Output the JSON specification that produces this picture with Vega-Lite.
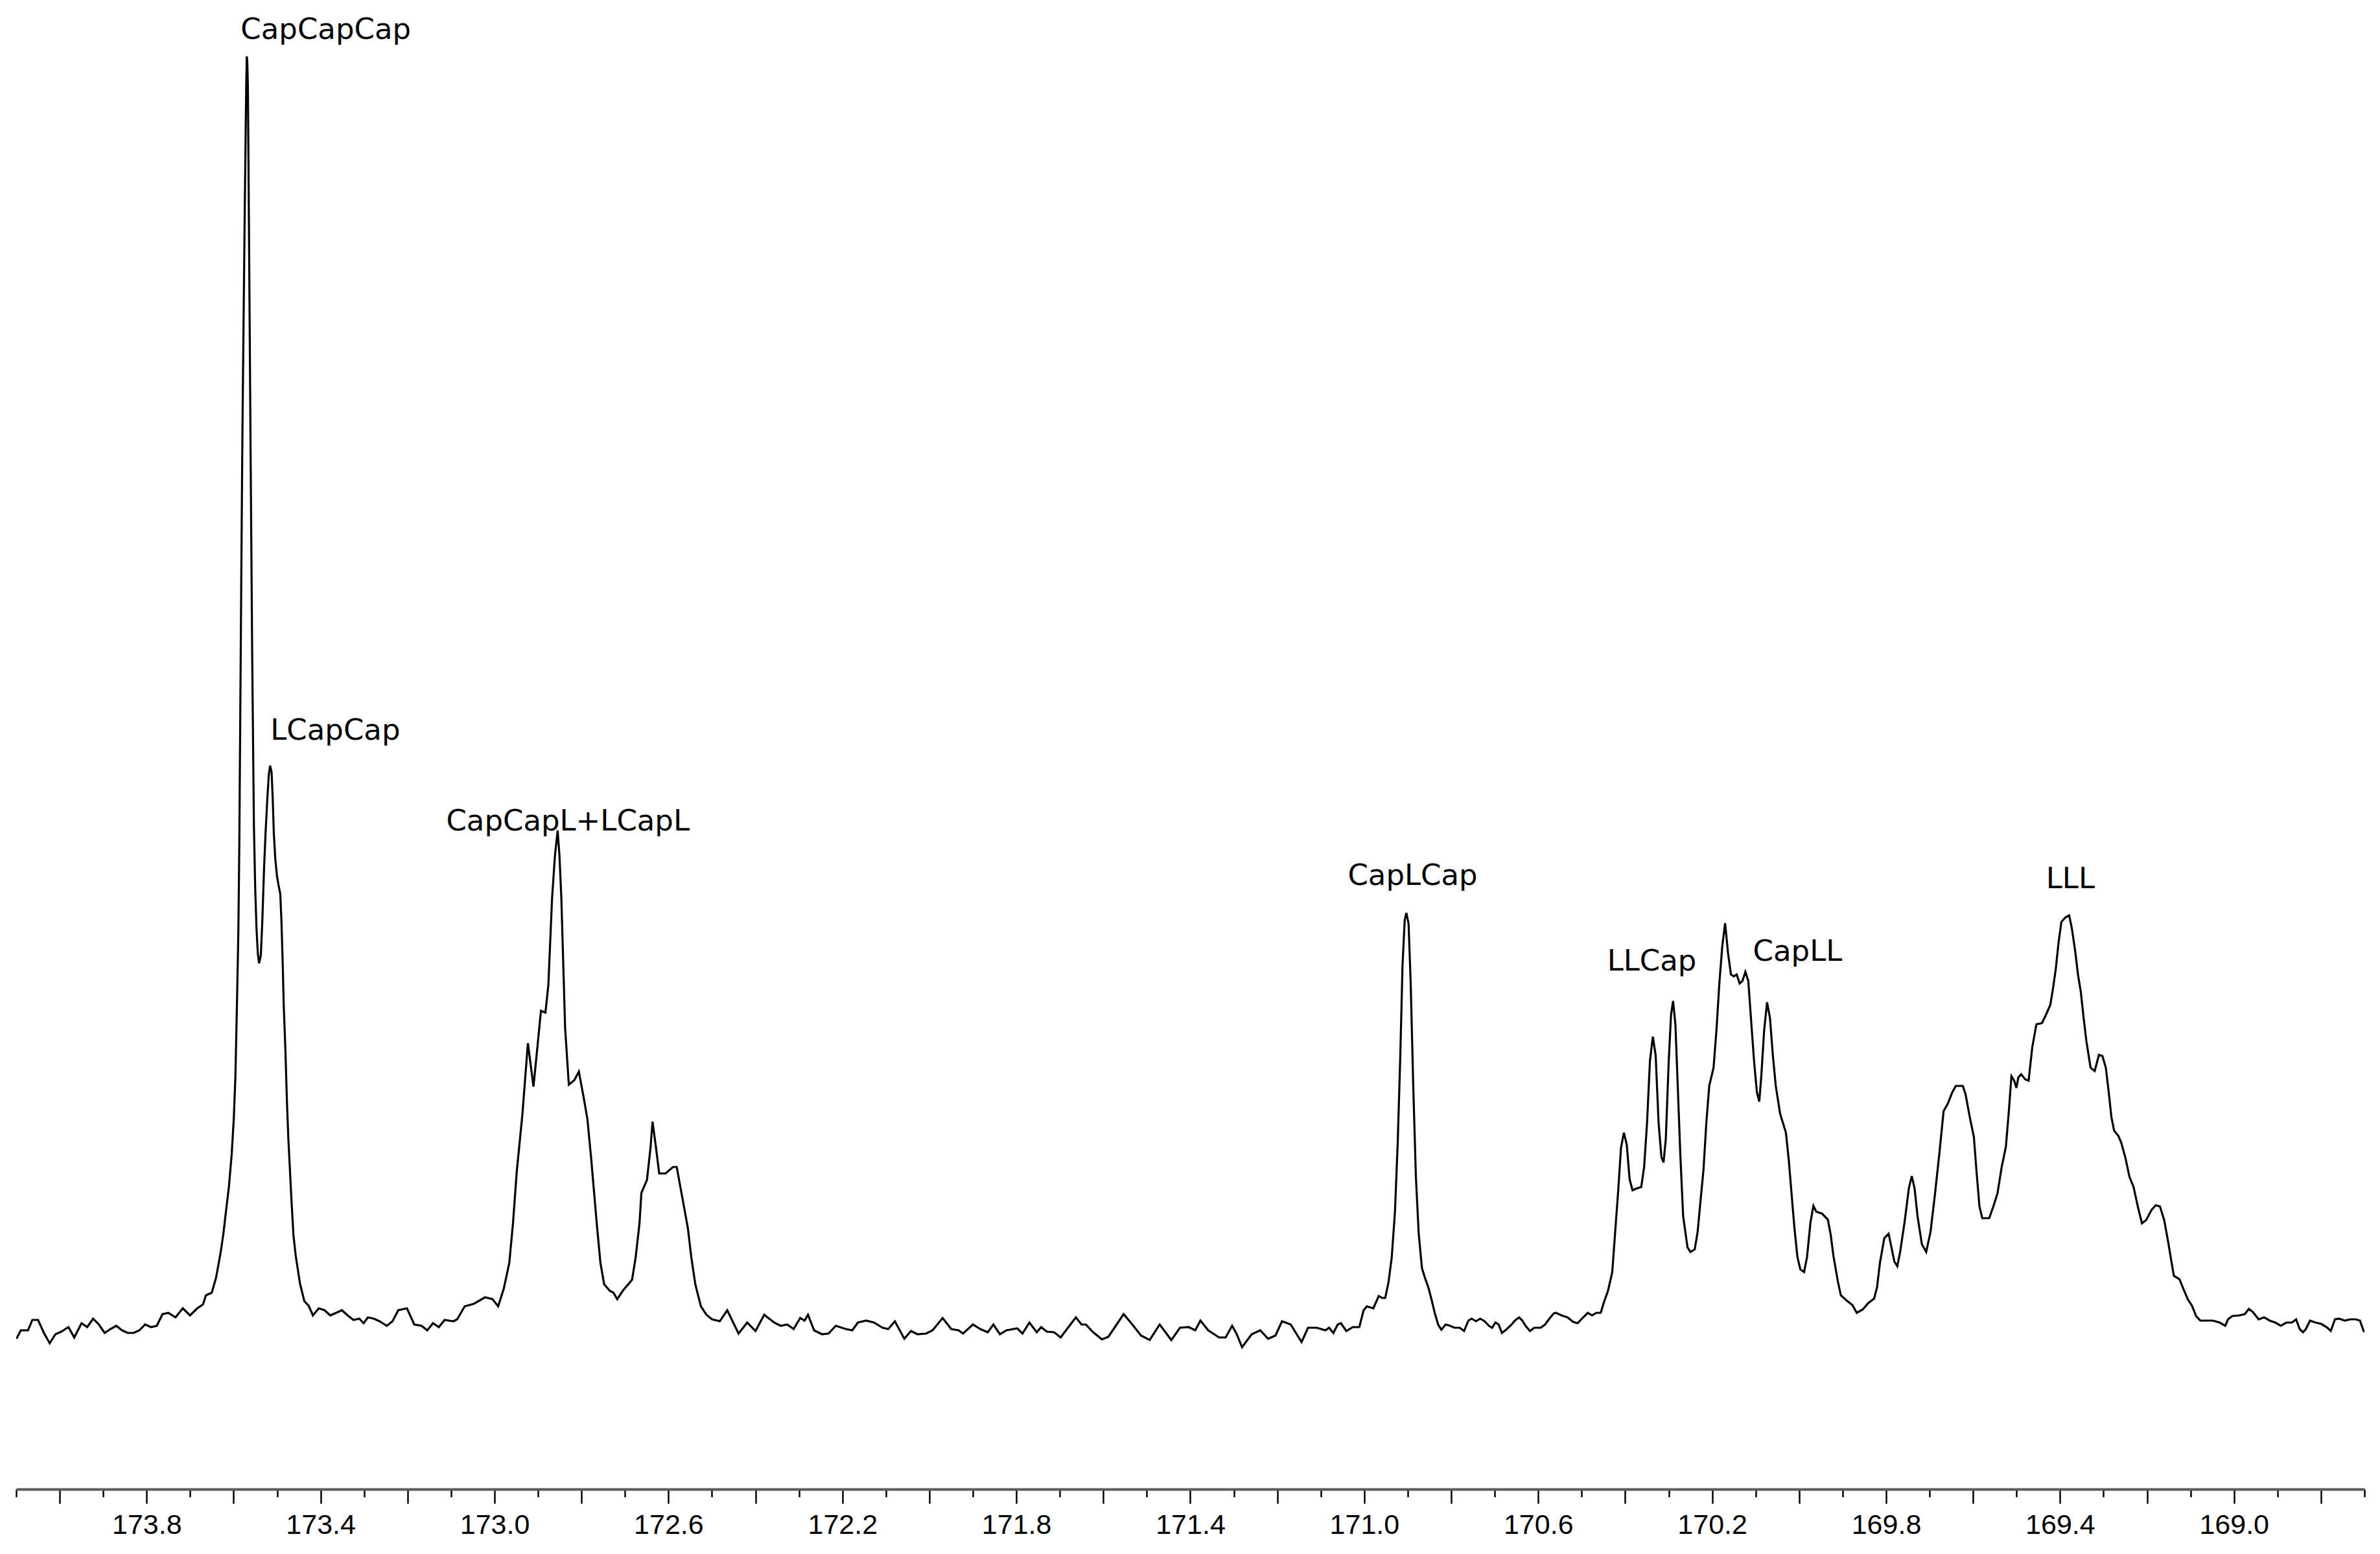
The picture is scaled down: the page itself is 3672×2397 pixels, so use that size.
{
"$schema":"https://vega.github.io/schema/vega-lite/v6.json",
"width":3623,"height":2297,
"padding":{"left":23,"top":0,"right":26,"bottom":0},
"autosize":{"type":"pad"},
"background":"white",
"config":{"view":{"stroke":null}},
"datasets":{
"spectrum":[
{"ppm":174.0994,"intensity":-0.75},{"ppm":174.0895,"intensity":-0.1},{"ppm":174.0729,"intensity":-0.1},{"ppm":174.0629,"intensity":0.7},{"ppm":174.0497,"intensity":0.7},{"ppm":174.0363,"intensity":-0.3},{"ppm":174.023,"intensity":-1.1},{"ppm":174.0097,"intensity":-0.4},{"ppm":173.9963,"intensity":-0.2},{"ppm":173.9798,"intensity":0.15},{"ppm":173.9665,"intensity":-0.65},{"ppm":173.9498,"intensity":0.45},{"ppm":173.9366,"intensity":0.15},{"ppm":173.9231,"intensity":0.8},{"ppm":173.9099,"intensity":0.35},{"ppm":173.8966,"intensity":-0.3},{"ppm":173.8833,"intensity":0},{"ppm":173.8699,"intensity":0.25},{"ppm":173.8567,"intensity":-0.1},{"ppm":173.8434,"intensity":-0.3},{"ppm":173.83,"intensity":-0.3},{"ppm":173.8167,"intensity":-0.1},{"ppm":173.8035,"intensity":0.35},{"ppm":173.7902,"intensity":0.15},{"ppm":173.7768,"intensity":0.25},{"ppm":173.7635,"intensity":1.15},{"ppm":173.7503,"intensity":1.25},{"ppm":173.7336,"intensity":0.9},{"ppm":173.7169,"intensity":1.6},{"ppm":173.7003,"intensity":1.05},{"ppm":173.6836,"intensity":1.6},{"ppm":173.6704,"intensity":1.9},{"ppm":173.6637,"intensity":2.6},{"ppm":173.6504,"intensity":2.8},{"ppm":173.6404,"intensity":3.95},{"ppm":173.6294,"intensity":6.0},{"ppm":173.6234,"intensity":7.4},{"ppm":173.6175,"intensity":9.1},{"ppm":173.6108,"intensity":11.0},{"ppm":173.6044,"intensity":13.5},{"ppm":173.5996,"intensity":16.25},{"ppm":173.5959,"intensity":19.5},{"ppm":173.5921,"intensity":25.5},{"ppm":173.5892,"intensity":30.5},{"ppm":173.5869,"intensity":37.5},{"ppm":173.5847,"intensity":47.5},{"ppm":173.5825,"intensity":57.5},{"ppm":173.5798,"intensity":69.05},{"ppm":173.5772,"intensity":77.5},{"ppm":173.575,"intensity":84.5},{"ppm":173.5723,"intensity":92.45},{"ppm":173.571,"intensity":96.0},{"ppm":173.5698,"intensity":98.15},{"ppm":173.5686,"intensity":97.75},{"ppm":173.5672,"intensity":95.8},{"ppm":173.5649,"intensity":85.75},{"ppm":173.5613,"intensity":69.05},{"ppm":173.5574,"intensity":52.3},{"ppm":173.5534,"intensity":38.9},{"ppm":173.5504,"intensity":34.0},{"ppm":173.5474,"intensity":30.9},{"ppm":173.5444,"intensity":29.0},{"ppm":173.5415,"intensity":28.2},{"ppm":173.5374,"intensity":28.85},{"ppm":173.534,"intensity":31.5},{"ppm":173.53,"intensity":35.55},{"ppm":173.5266,"intensity":38.25},{"ppm":173.5225,"intensity":40.9},{"ppm":173.5191,"intensity":42.75},{"ppm":173.5161,"intensity":43.45},{"ppm":173.5127,"intensity":42.95},{"ppm":173.5102,"intensity":41.0},{"ppm":173.5076,"intensity":38.25},{"ppm":173.5042,"intensity":36.25},{"ppm":173.5002,"intensity":34.9},{"ppm":173.4968,"intensity":34.25},{"ppm":173.4927,"intensity":33.55},{"ppm":173.4901,"intensity":31.5},{"ppm":173.4874,"intensity":28.5},{"ppm":173.4848,"intensity":25.0},{"ppm":173.4808,"intensity":21.35},{"ppm":173.4774,"intensity":17.5},{"ppm":173.4741,"intensity":14.65},{"ppm":173.4674,"intensity":10.2},{"ppm":173.4625,"intensity":7.25},{"ppm":173.4574,"intensity":5.7},{"ppm":173.4474,"intensity":3.5},{"ppm":173.4374,"intensity":2.15},{"ppm":173.4276,"intensity":1.8},{"ppm":173.4176,"intensity":1.05},{"ppm":173.4042,"intensity":1.6},{"ppm":173.3909,"intensity":1.45},{"ppm":173.3777,"intensity":1.05},{"ppm":173.3643,"intensity":1.25},{"ppm":173.351,"intensity":1.45},{"ppm":173.3377,"intensity":1.05},{"ppm":173.3245,"intensity":0.7},{"ppm":173.3111,"intensity":0.8},{"ppm":173.3011,"intensity":0.45},{"ppm":173.2911,"intensity":0.9},{"ppm":173.2778,"intensity":0.8},{"ppm":173.2646,"intensity":0.6},{"ppm":173.2479,"intensity":0.25},{"ppm":173.2346,"intensity":0.6},{"ppm":173.2214,"intensity":1.45},{"ppm":173.2014,"intensity":1.6},{"ppm":173.1847,"intensity":0.35},{"ppm":173.168,"intensity":0.25},{"ppm":173.1547,"intensity":-0.1},{"ppm":173.1415,"intensity":0.45},{"ppm":173.1282,"intensity":0.15},{"ppm":173.1148,"intensity":0.7},{"ppm":173.0948,"intensity":0.6},{"ppm":173.0859,"intensity":0.75},{"ppm":173.0687,"intensity":1.75},{"ppm":173.0474,"intensity":1.95},{"ppm":173.0217,"intensity":2.45},{"ppm":173.0047,"intensity":2.3},{"ppm":172.9917,"intensity":1.75},{"ppm":172.9789,"intensity":3.1},{"ppm":172.9661,"intensity":5.1},{"ppm":172.9576,"intensity":8.15},{"ppm":172.9489,"intensity":12.15},{"ppm":172.9361,"intensity":16.5},{"ppm":172.9233,"intensity":22.05},{"ppm":172.9105,"intensity":18.7},{"ppm":172.902,"intensity":21.55},{"ppm":172.8933,"intensity":24.55},{"ppm":172.883,"intensity":24.4},{"ppm":172.8762,"intensity":26.55},{"ppm":172.8677,"intensity":33.25},{"ppm":172.8611,"intensity":36.5},{"ppm":172.8549,"intensity":38.45},{"ppm":172.8507,"intensity":36.5},{"ppm":172.8464,"intensity":33.25},{"ppm":172.8377,"intensity":23.2},{"ppm":172.8292,"intensity":18.85},{"ppm":172.8164,"intensity":19.2},{"ppm":172.8061,"intensity":19.85},{"ppm":172.795,"intensity":17.85},{"ppm":172.7865,"intensity":16.2},{"ppm":172.7778,"intensity":13.15},{"ppm":172.765,"intensity":8.15},{"ppm":172.7565,"intensity":5.1},{"ppm":172.7479,"intensity":3.45},{"ppm":172.735,"intensity":2.95},{"ppm":172.7266,"intensity":2.8},{"ppm":172.7179,"intensity":2.3},{"ppm":172.7051,"intensity":2.95},{"ppm":172.6838,"intensity":3.8},{"ppm":172.6756,"intensity":5.5},{"ppm":172.6667,"intensity":8.15},{"ppm":172.6623,"intensity":10.5},{"ppm":172.6495,"intensity":11.5},{"ppm":172.6413,"intensity":14.0},{"ppm":172.6367,"intensity":16.0},{"ppm":172.6282,"intensity":13.85},{"ppm":172.6214,"intensity":12.0},{"ppm":172.6067,"intensity":12.0},{"ppm":172.5896,"intensity":12.5},{"ppm":172.5811,"intensity":12.5},{"ppm":172.5683,"intensity":10.15},{"ppm":172.5555,"intensity":7.8},{"ppm":172.5474,"intensity":5.5},{"ppm":172.5383,"intensity":3.45},{"ppm":172.5255,"intensity":1.75},{"ppm":172.5127,"intensity":1.1},{"ppm":172.4999,"intensity":0.75},{"ppm":172.4819,"intensity":0.6},{"ppm":172.4649,"intensity":1.45},{"ppm":172.4389,"intensity":-0.35},{"ppm":172.419,"intensity":0.5},{"ppm":172.3999,"intensity":-0.15},{"ppm":172.3799,"intensity":1.1},{"ppm":172.357,"intensity":0.5},{"ppm":172.3421,"intensity":0.25},{"ppm":172.327,"intensity":0.35},{"ppm":172.3121,"intensity":0},{"ppm":172.2971,"intensity":0.85},{"ppm":172.2871,"intensity":0.65},{"ppm":172.2792,"intensity":1.1},{"ppm":172.2652,"intensity":-0.1},{"ppm":172.2471,"intensity":-0.4},{"ppm":172.2322,"intensity":-0.35},{"ppm":172.2152,"intensity":0.25},{"ppm":172.1923,"intensity":0},{"ppm":172.1774,"intensity":-0.1},{"ppm":172.1644,"intensity":0.5},{"ppm":172.1453,"intensity":0.65},{"ppm":172.1275,"intensity":0.5},{"ppm":172.1075,"intensity":0.1},{"ppm":172.0945,"intensity":0},{"ppm":172.0795,"intensity":0.6},{"ppm":172.0576,"intensity":-0.75},{"ppm":172.0425,"intensity":-0.15},{"ppm":172.0276,"intensity":-0.4},{"ppm":172.0076,"intensity":-0.35},{"ppm":171.9927,"intensity":-0.1},{"ppm":171.9696,"intensity":0.85},{"ppm":171.9498,"intensity":0},{"ppm":171.9328,"intensity":-0.1},{"ppm":171.9228,"intensity":-0.35},{"ppm":171.8999,"intensity":0.35},{"ppm":171.8829,"intensity":0},{"ppm":171.8659,"intensity":-0.25},{"ppm":171.8529,"intensity":0.35},{"ppm":171.8379,"intensity":-0.4},{"ppm":171.823,"intensity":-0.1},{"ppm":171.798,"intensity":0.05},{"ppm":171.786,"intensity":-0.35},{"ppm":171.7701,"intensity":0.5},{"ppm":171.7531,"intensity":-0.25},{"ppm":171.7431,"intensity":0.15},{"ppm":171.7301,"intensity":-0.2},{"ppm":171.7131,"intensity":-0.25},{"ppm":171.6982,"intensity":-0.65},{"ppm":171.6802,"intensity":0.15},{"ppm":171.6632,"intensity":0.9},{"ppm":171.6503,"intensity":0.35},{"ppm":171.6403,"intensity":0.35},{"ppm":171.6233,"intensity":-0.25},{"ppm":171.6033,"intensity":-0.8},{"ppm":171.5884,"intensity":-0.6},{"ppm":171.5734,"intensity":0.15},{"ppm":171.5534,"intensity":1.15},{"ppm":171.5334,"intensity":0.35},{"ppm":171.5135,"intensity":-0.5},{"ppm":171.4936,"intensity":-0.85},{"ppm":171.4705,"intensity":0.35},{"ppm":171.4437,"intensity":-0.85},{"ppm":171.4237,"intensity":0.1},{"ppm":171.4038,"intensity":0.15},{"ppm":171.3887,"intensity":-0.1},{"ppm":171.3768,"intensity":0.65},{"ppm":171.3588,"intensity":-0.1},{"ppm":171.3339,"intensity":-0.65},{"ppm":171.3188,"intensity":-0.65},{"ppm":171.3039,"intensity":0.25},{"ppm":171.2939,"intensity":-0.35},{"ppm":171.281,"intensity":-1.4},{"ppm":171.2589,"intensity":-0.4},{"ppm":171.2391,"intensity":-0.1},{"ppm":171.2211,"intensity":-0.75},{"ppm":171.2041,"intensity":-0.5},{"ppm":171.1892,"intensity":0.6},{"ppm":171.1692,"intensity":0.35},{"ppm":171.1442,"intensity":-1.0},{"ppm":171.1293,"intensity":0.1},{"ppm":171.1093,"intensity":0.1},{"ppm":171.0893,"intensity":-0.1},{"ppm":171.081,"intensity":0.1},{"ppm":171.071,"intensity":-0.3},{"ppm":171.0611,"intensity":0.35},{"ppm":171.0537,"intensity":0.45},{"ppm":171.0412,"intensity":-0.15},{"ppm":171.0263,"intensity":0.15},{"ppm":171.0114,"intensity":0.15},{"ppm":171.0015,"intensity":1.45},{"ppm":170.9941,"intensity":1.75},{"ppm":170.9792,"intensity":1.6},{"ppm":170.9667,"intensity":2.55},{"ppm":170.9592,"intensity":2.4},{"ppm":170.9518,"intensity":2.4},{"ppm":170.9443,"intensity":3.6},{"ppm":170.9369,"intensity":5.5},{"ppm":170.9294,"intensity":9.05},{"ppm":170.923,"intensity":14.45},{"ppm":170.917,"intensity":21.25},{"ppm":170.9121,"intensity":28.0},{"ppm":170.907,"intensity":31.55},{"ppm":170.9032,"intensity":32.1},{"ppm":170.8981,"intensity":31.25},{"ppm":170.8932,"intensity":26.65},{"ppm":170.8872,"intensity":18.55},{"ppm":170.8813,"intensity":11.75},{"ppm":170.8749,"intensity":7.4},{"ppm":170.8674,"intensity":4.7},{"ppm":170.86,"intensity":3.9},{"ppm":170.8525,"intensity":3.2},{"ppm":170.8451,"intensity":2.25},{"ppm":170.8376,"intensity":1.2},{"ppm":170.8302,"intensity":0.35},{"ppm":170.8227,"intensity":-0.05},{"ppm":170.8127,"intensity":0.35},{"ppm":170.8027,"intensity":0.25},{"ppm":170.7929,"intensity":0.1},{"ppm":170.7804,"intensity":0.1},{"ppm":170.7705,"intensity":-0.15},{"ppm":170.7606,"intensity":0.65},{"ppm":170.7531,"intensity":0.8},{"ppm":170.7431,"intensity":0.6},{"ppm":170.7333,"intensity":0.8},{"ppm":170.7233,"intensity":0.6},{"ppm":170.7133,"intensity":0.25},{"ppm":170.7059,"intensity":0.1},{"ppm":170.6984,"intensity":0.5},{"ppm":170.691,"intensity":0.35},{"ppm":170.6835,"intensity":-0.3},{"ppm":170.6737,"intensity":-0.05},{"ppm":170.6611,"intensity":0.35},{"ppm":170.6537,"intensity":0.65},{"ppm":170.6439,"intensity":0.9},{"ppm":170.6364,"intensity":0.65},{"ppm":170.629,"intensity":0.25},{"ppm":170.619,"intensity":-0.15},{"ppm":170.609,"intensity":0.1},{"ppm":170.5941,"intensity":0.1},{"ppm":170.5842,"intensity":0.35},{"ppm":170.5743,"intensity":0.8},{"ppm":170.5643,"intensity":1.2},{"ppm":170.5594,"intensity":1.25},{"ppm":170.5461,"intensity":1.05},{"ppm":170.5327,"intensity":0.9},{"ppm":170.5194,"intensity":0.55},{"ppm":170.5094,"intensity":0.45},{"ppm":170.4995,"intensity":0.8},{"ppm":170.4862,"intensity":1.25},{"ppm":170.4762,"intensity":1.05},{"ppm":170.4662,"intensity":1.25},{"ppm":170.4562,"intensity":1.25},{"ppm":170.4495,"intensity":2.0},{"ppm":170.4395,"intensity":2.95},{"ppm":170.4297,"intensity":4.4},{"ppm":170.423,"intensity":7.5},{"ppm":170.4163,"intensity":10.55},{"ppm":170.4097,"intensity":13.95},{"ppm":170.403,"intensity":15.15},{"ppm":170.3963,"intensity":14.2},{"ppm":170.3898,"intensity":11.55},{"ppm":170.3831,"intensity":10.7},{"ppm":170.3731,"intensity":10.85},{"ppm":170.3631,"intensity":10.95},{"ppm":170.3564,"intensity":12.5},{"ppm":170.3498,"intensity":15.85},{"ppm":170.3431,"intensity":20.65},{"ppm":170.3364,"intensity":22.55},{"ppm":170.3299,"intensity":21.1},{"ppm":170.3231,"intensity":15.85},{"ppm":170.3166,"intensity":13.25},{"ppm":170.3118,"intensity":12.85},{"ppm":170.3066,"intensity":14.65},{"ppm":170.2999,"intensity":20.65},{"ppm":170.2945,"intensity":24.25},{"ppm":170.2899,"intensity":25.3},{"ppm":170.2845,"intensity":23.5},{"ppm":170.2799,"intensity":19.45},{"ppm":170.2732,"intensity":13.45},{"ppm":170.2667,"intensity":8.7},{"ppm":170.2567,"intensity":6.3},{"ppm":170.25,"intensity":5.95},{"ppm":170.24,"intensity":6.15},{"ppm":170.2334,"intensity":7.5},{"ppm":170.2267,"intensity":9.9},{"ppm":170.22,"intensity":12.25},{"ppm":170.2135,"intensity":15.85},{"ppm":170.2067,"intensity":18.75},{"ppm":170.1968,"intensity":20.15},{"ppm":170.1901,"intensity":23.05},{"ppm":170.1835,"intensity":26.65},{"ppm":170.1768,"intensity":29.5},{"ppm":170.1702,"intensity":31.3},{"ppm":170.1635,"intensity":29.0},{"ppm":170.1568,"intensity":27.35},{"ppm":170.1503,"intensity":27.2},{"ppm":170.1436,"intensity":27.35},{"ppm":170.1368,"intensity":26.65},{"ppm":170.1303,"intensity":26.85},{"ppm":170.1236,"intensity":27.55},{"ppm":170.1169,"intensity":26.85},{"ppm":170.1103,"intensity":23.75},{"ppm":170.1036,"intensity":20.65},{"ppm":170.0971,"intensity":18.25},{"ppm":170.0917,"intensity":17.55},{"ppm":170.0871,"intensity":19.45},{"ppm":170.0804,"intensity":23.05},{"ppm":170.0737,"intensity":25.2},{"ppm":170.0671,"intensity":24.0},{"ppm":170.0604,"intensity":21.1},{"ppm":170.0537,"intensity":18.75},{"ppm":170.0437,"intensity":16.6},{"ppm":170.0304,"intensity":15.15},{"ppm":170.0237,"intensity":13.0},{"ppm":170.0172,"intensity":10.35},{"ppm":170.0105,"intensity":7.7},{"ppm":170.0039,"intensity":5.55},{"ppm":169.9972,"intensity":4.6},{"ppm":169.9886,"intensity":4.4},{"ppm":169.9818,"intensity":5.55},{"ppm":169.974,"intensity":8.2},{"ppm":169.9672,"intensity":9.5},{"ppm":169.9605,"intensity":9.05},{"ppm":169.9473,"intensity":8.9},{"ppm":169.934,"intensity":8.45},{"ppm":169.9273,"intensity":7.25},{"ppm":169.9207,"intensity":5.55},{"ppm":169.9108,"intensity":3.65},{"ppm":169.9041,"intensity":2.6},{"ppm":169.8908,"intensity":2.2},{"ppm":169.8774,"intensity":1.85},{"ppm":169.8674,"intensity":1.25},{"ppm":169.8541,"intensity":1.5},{"ppm":169.8409,"intensity":2.0},{"ppm":169.8276,"intensity":2.35},{"ppm":169.8209,"intensity":3.2},{"ppm":169.8142,"intensity":5.1},{"ppm":169.8042,"intensity":7.0},{"ppm":169.7942,"intensity":7.35},{"ppm":169.7877,"intensity":6.3},{"ppm":169.781,"intensity":5.2},{"ppm":169.7742,"intensity":4.85},{"ppm":169.7677,"intensity":5.95},{"ppm":169.7577,"intensity":8.2},{"ppm":169.7477,"intensity":10.85},{"ppm":169.741,"intensity":11.8},{"ppm":169.7345,"intensity":10.85},{"ppm":169.7277,"intensity":8.7},{"ppm":169.7178,"intensity":6.55},{"ppm":169.7078,"intensity":5.95},{"ppm":169.6978,"intensity":7.5},{"ppm":169.6878,"intensity":10.35},{"ppm":169.6778,"intensity":13.45},{"ppm":169.6678,"intensity":16.8},{"ppm":169.6579,"intensity":17.4},{"ppm":169.6479,"intensity":18.25},{"ppm":169.6397,"intensity":18.75},{"ppm":169.6236,"intensity":18.75},{"ppm":169.6173,"intensity":18.1},{"ppm":169.6076,"intensity":16.35},{"ppm":169.5981,"intensity":14.8},{"ppm":169.5917,"intensity":12.0},{"ppm":169.5853,"intensity":9.45},{"ppm":169.5789,"intensity":8.55},{"ppm":169.5629,"intensity":8.55},{"ppm":169.5534,"intensity":9.45},{"ppm":169.5439,"intensity":10.45},{"ppm":169.5342,"intensity":12.5},{"ppm":169.5246,"intensity":14.05},{"ppm":169.5182,"intensity":16.6},{"ppm":169.5118,"intensity":19.5},{"ppm":169.5054,"intensity":19.15},{"ppm":169.5003,"intensity":18.6},{"ppm":169.4959,"intensity":19.4},{"ppm":169.4895,"intensity":19.65},{"ppm":169.4799,"intensity":19.25},{"ppm":169.4723,"intensity":19.15},{"ppm":169.464,"intensity":21.7},{"ppm":169.4544,"intensity":23.5},{"ppm":169.4416,"intensity":23.6},{"ppm":169.4321,"intensity":24.25},{"ppm":169.4224,"intensity":25.0},{"ppm":169.416,"intensity":26.3},{"ppm":169.4097,"intensity":27.8},{"ppm":169.4033,"intensity":29.85},{"ppm":169.3969,"intensity":31.4},{"ppm":169.3874,"intensity":31.75},{"ppm":169.379,"intensity":31.9},{"ppm":169.3726,"intensity":30.85},{"ppm":169.365,"intensity":29.1},{"ppm":169.3586,"intensity":27.3},{"ppm":169.3522,"intensity":26.0},{"ppm":169.3458,"intensity":24.0},{"ppm":169.3394,"intensity":22.2},{"ppm":169.3298,"intensity":20.15},{"ppm":169.3203,"intensity":19.9},{"ppm":169.3106,"intensity":21.15},{"ppm":169.3024,"intensity":21.05},{"ppm":169.2947,"intensity":20.15},{"ppm":169.2883,"intensity":18.35},{"ppm":169.2819,"intensity":16.35},{"ppm":169.2756,"intensity":15.3},{"ppm":169.2659,"intensity":14.9},{"ppm":169.2595,"intensity":14.4},{"ppm":169.25,"intensity":13.25},{"ppm":169.2404,"intensity":11.75},{"ppm":169.2309,"intensity":10.95},{"ppm":169.2212,"intensity":9.45},{"ppm":169.2117,"intensity":8.15},{"ppm":169.2021,"intensity":8.4},{"ppm":169.1893,"intensity":9.2},{"ppm":169.1798,"intensity":9.55},{"ppm":169.1702,"intensity":9.45},{"ppm":169.1605,"intensity":8.4},{"ppm":169.151,"intensity":6.65},{"ppm":169.1446,"intensity":5.35},{"ppm":169.1382,"intensity":4.1},{"ppm":169.1254,"intensity":3.85},{"ppm":169.1158,"intensity":3.05},{"ppm":169.1063,"intensity":2.3},{"ppm":169.0967,"intensity":1.8},{"ppm":169.0871,"intensity":1.0},{"ppm":169.0775,"intensity":0.65},{"ppm":169.0616,"intensity":0.65},{"ppm":169.0488,"intensity":0.65},{"ppm":169.0328,"intensity":0.5},{"ppm":169.02,"intensity":0.25},{"ppm":169.0136,"intensity":0.75},{"ppm":169.004,"intensity":1.0},{"ppm":168.9881,"intensity":1.05},{"ppm":168.9753,"intensity":1.15},{"ppm":168.9657,"intensity":1.55},{"ppm":168.9562,"intensity":1.3},{"ppm":168.9434,"intensity":0.75},{"ppm":168.9306,"intensity":0.9},{"ppm":168.9179,"intensity":0.65},{"ppm":168.9051,"intensity":0.5},{"ppm":168.8923,"intensity":0.25},{"ppm":168.8796,"intensity":0.5},{"ppm":168.8668,"intensity":0.5},{"ppm":168.8572,"intensity":0.75},{"ppm":168.8489,"intensity":0},{"ppm":168.8411,"intensity":-0.25},{"ppm":168.8347,"intensity":0},{"ppm":168.8252,"intensity":0.65},{"ppm":168.8125,"intensity":0.5},{"ppm":168.7997,"intensity":0.4},{"ppm":168.7869,"intensity":0.15},{"ppm":168.7774,"intensity":-0.15},{"ppm":168.7678,"intensity":0.75},{"ppm":168.7581,"intensity":0.8},{"ppm":168.7455,"intensity":0.65},{"ppm":168.7326,"intensity":0.75},{"ppm":168.7198,"intensity":0.75},{"ppm":168.7103,"intensity":0.65},{"ppm":168.7008,"intensity":-0.25}
],
"labels":[
{"ppm":173.388,"intensity":99.5,"label":"CapCapCap"},
{"ppm":173.3661,"intensity":45.45,"label":"LCapCap"},
{"ppm":172.8313,"intensity":38.45,"label":"CapCapL+LCapL"},
{"ppm":170.8887,"intensity":34.25,"label":"CapLCap"},
{"ppm":170.3388,"intensity":27.65,"label":"LLCap"},
{"ppm":170.0035,"intensity":28.4,"label":"CapLL"},
{"ppm":169.3761,"intensity":34.0,"label":"LLL"}
]
},
"layer":[
{"data":{"name":"spectrum"},
 "mark":{"type":"line","color":"#000000","strokeWidth":3.2,"interpolate":"linear","clip":true},
 "encoding":{
  "x":{"field":"ppm","type":"quantitative",
   "scale":{"domain":[168.7,174.1],"reverse":true,"nice":false,"zero":false},
   "axis":{"title":null,"grid":false,
    "values":[174.1,174,173.9,173.8,173.7,173.6,173.5,173.4,173.3,173.2,173.1,173,172.9,172.8,172.7,172.6,172.5,172.4,172.3,172.2,172.1,172,171.9,171.8,171.7,171.6,171.5,171.4,171.3,171.2,171.1,171,170.9,170.8,170.7,170.6,170.5,170.4,170.3,170.2,170.1,170,169.9,169.8,169.7,169.6,169.5,169.4,169.3,169.2,169.1,169,168.9,168.8,168.7],
    "tickSize":{"condition":{"test":"round(datum.value*10) % 2 == 0","value":22},"value":12},
    "tickColor":"#000000","tickWidth":2.5,
    "domainColor":"#5a5a5a","domainWidth":4,
    "labelExpr":"round(datum.value*10) % 4 == 2 ? format(datum.value, '.1f') : ''",
    "labelFont":"Liberation Sans","labelFontSize":43,"labelColor":"#000000",
    "labelPadding":12,"labelOverlap":false,"labelFlush":false,"labelBound":false}},
  "y":{"field":"intensity","type":"quantitative",
   "scale":{"domain":[-12.35,102.5],"nice":false,"zero":false},
   "axis":null}
 }},
{"data":{"name":"labels"},
 "mark":{"type":"text","font":"DejaVu Sans","fontSize":45,"align":"center","baseline":"alphabetic","color":"#000000"},
 "encoding":{
  "x":{"field":"ppm","type":"quantitative"},
  "y":{"field":"intensity","type":"quantitative"},
  "text":{"field":"label","type":"nominal"}
 }}
]
}
